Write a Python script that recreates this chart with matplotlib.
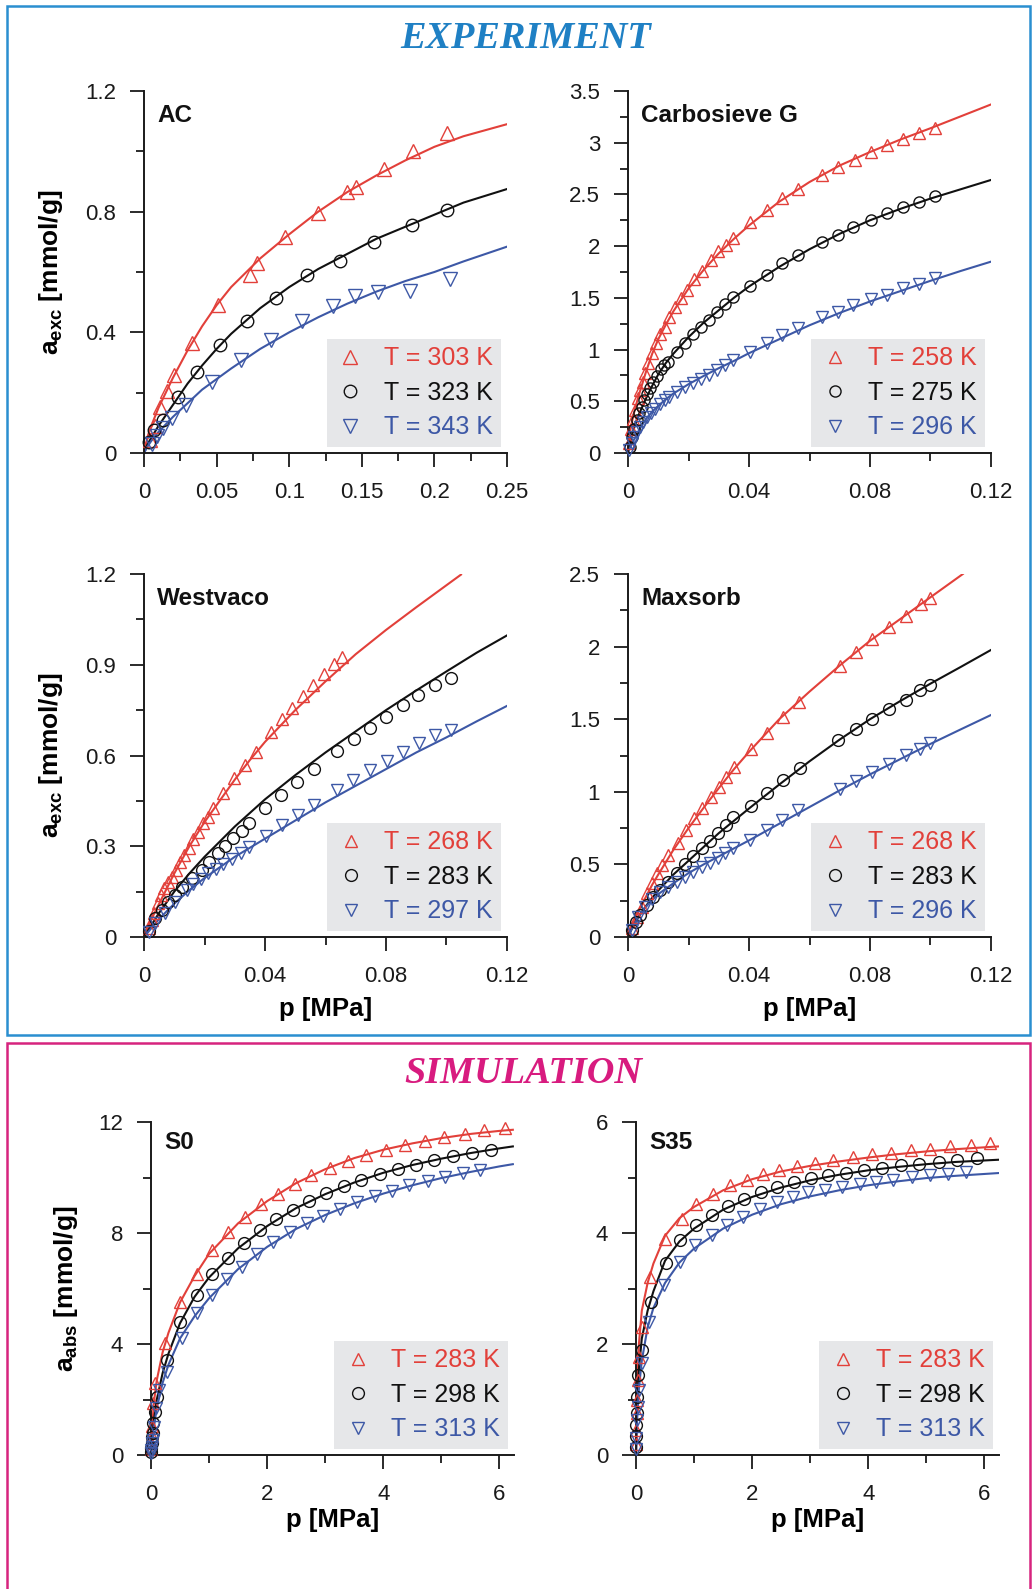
import matplotlib
matplotlib.use('Agg')
import matplotlib.pyplot as plt
from matplotlib.patches import Rectangle
from matplotlib.lines import Line2D
from matplotlib.ticker import MultipleLocator, FuncFormatter

plt.rcParams['font.family'] = ['Liberation Sans', 'DejaVu Sans']
plt.rcParams['mathtext.fontset'] = 'custom'
plt.rcParams['mathtext.rm'] = 'Liberation Sans'
plt.rcParams['mathtext.bf'] = 'Liberation Sans:bold'

RED = '#e2403a'
BLK = '#111111'
BLU = '#3d58a6'

# ---------------- AC ----------------
ac_fit_p = [0, 0.0025, 0.005, 0.01, 0.02, 0.03, 0.04, 0.05, 0.06, 0.08, 0.10, 0.12, 0.14, 0.16, 0.18, 0.20, 0.22, 0.25]
ac_303_fit = [0, 0.055, 0.09, 0.15, 0.25, 0.34, 0.42, 0.49, 0.55, 0.645, 0.725, 0.80, 0.865, 0.92, 0.97, 1.015, 1.05, 1.09]
ac_323_fit = [0, 0.03, 0.05, 0.09, 0.16, 0.23, 0.29, 0.345, 0.395, 0.48, 0.55, 0.61, 0.66, 0.71, 0.75, 0.79, 0.83, 0.875]
ac_343_fit = [0, 0.022, 0.04, 0.07, 0.12, 0.165, 0.21, 0.245, 0.28, 0.345, 0.40, 0.45, 0.495, 0.535, 0.57, 0.60, 0.635, 0.684]
ac_303_p = [0.004, 0.0076, 0.011, 0.0156, 0.0207, 0.0329, 0.0512, 0.073, 0.0777, 0.0972, 0.120, 0.140, 0.146, 0.165, 0.185, 0.209]
ac_303_a = [0.044, 0.088, 0.154, 0.204, 0.259, 0.364, 0.491, 0.590, 0.629, 0.717, 0.794, 0.866, 0.882, 0.943, 1.001, 1.061]
ac_323_p = [0.0035, 0.0069, 0.0133, 0.0237, 0.0363, 0.0524, 0.0708, 0.091, 0.1126, 0.135, 0.1585, 0.1845, 0.209]
ac_323_a = [0.035, 0.077, 0.108, 0.185, 0.267, 0.358, 0.439, 0.515, 0.590, 0.637, 0.698, 0.755, 0.807]
ac_343_p = [0.0053, 0.0087, 0.0133, 0.019, 0.029, 0.0466, 0.0666, 0.0873, 0.1087, 0.1305, 0.1455, 0.1615, 0.183, 0.211]
ac_343_a = [0.03, 0.055, 0.083, 0.116, 0.160, 0.237, 0.309, 0.373, 0.439, 0.487, 0.521, 0.535, 0.538, 0.576]

# ---------------- Carbosieve G ----------------
cg_fit_p = [0, 0.0005, 0.001, 0.002, 0.003, 0.004, 0.006, 0.008, 0.01, 0.0125, 0.015, 0.02, 0.025, 0.03, 0.035, 0.04, 0.05, 0.06, 0.07, 0.08, 0.09, 0.10, 0.11, 0.12]
cg_258_fit = [0, 0.17, 0.26, 0.39, 0.50, 0.60, 0.79, 0.96, 1.10, 1.24, 1.37, 1.59, 1.77, 1.93, 2.07, 2.20, 2.43, 2.62, 2.78, 2.91, 3.03, 3.14, 3.255, 3.37]
cg_275_fit = [0, 0.07, 0.14, 0.24, 0.33, 0.40, 0.53, 0.65, 0.76, 0.87, 0.96, 1.12, 1.26, 1.38, 1.50, 1.61, 1.80, 1.97, 2.12, 2.25, 2.36, 2.46, 2.55, 2.64]
cg_296_fit = [0, 0.04, 0.075, 0.13, 0.18, 0.24, 0.33, 0.40, 0.455, 0.52, 0.575, 0.665, 0.745, 0.82, 0.89, 0.965, 1.10, 1.235, 1.355, 1.465, 1.565, 1.665, 1.76, 1.85]
cg_258_p = [0.0003, 0.00088, 0.0015, 0.0023, 0.0032, 0.0040, 0.0048, 0.0056, 0.0067, 0.0078, 0.0091, 0.0106, 0.0122, 0.0136, 0.0155, 0.0174, 0.0194, 0.0218, 0.0246, 0.0273, 0.0299, 0.0324, 0.0348, 0.0403, 0.0458, 0.0508, 0.0561, 0.0642, 0.0694, 0.0749, 0.0802, 0.0855, 0.0908, 0.0961, 0.1016]
cg_258_a = [0.10, 0.229, 0.33, 0.416, 0.529, 0.609, 0.690, 0.770, 0.867, 0.964, 1.060, 1.150, 1.221, 1.318, 1.415, 1.50, 1.58, 1.679, 1.763, 1.866, 1.956, 2.011, 2.075, 2.237, 2.349, 2.462, 2.549, 2.686, 2.766, 2.837, 2.911, 2.975, 3.040, 3.094, 3.142]
cg_275_p = [0.0005, 0.0012, 0.002, 0.0029, 0.0036, 0.0045, 0.0054, 0.0063, 0.0073, 0.0084, 0.0095, 0.0108, 0.0120, 0.0133, 0.0161, 0.0188, 0.0216, 0.0241, 0.0269, 0.0293, 0.0321, 0.0346, 0.0403, 0.0458, 0.0508, 0.0561, 0.0642, 0.0694, 0.0745, 0.0802, 0.0855, 0.0908, 0.0961, 0.1016]
cg_275_a = [0.06, 0.15, 0.23, 0.319, 0.384, 0.448, 0.512, 0.567, 0.625, 0.690, 0.744, 0.809, 0.851, 0.883, 0.980, 1.060, 1.150, 1.221, 1.286, 1.366, 1.437, 1.511, 1.615, 1.721, 1.834, 1.914, 2.042, 2.107, 2.187, 2.252, 2.316, 2.374, 2.428, 2.483]
cg_296_p = [0.0004, 0.0012, 0.0021, 0.0030, 0.0040, 0.0051, 0.0062, 0.0076, 0.0089, 0.0106, 0.0122, 0.0136, 0.0161, 0.0188, 0.0214, 0.0241, 0.0269, 0.0293, 0.0321, 0.0346, 0.0403, 0.0458, 0.0508, 0.0561, 0.0642, 0.0694, 0.0745, 0.0802, 0.0855, 0.0908, 0.0961, 0.1016]
cg_296_a = [0.03, 0.093, 0.158, 0.206, 0.255, 0.303, 0.345, 0.390, 0.422, 0.474, 0.512, 0.545, 0.593, 0.635, 0.674, 0.712, 0.754, 0.802, 0.851, 0.899, 0.980, 1.060, 1.141, 1.205, 1.319, 1.367, 1.431, 1.489, 1.528, 1.592, 1.634, 1.689]

# ---------------- Westvaco ----------------
wv_268_fit_p = [0, 0.002, 0.005, 0.01, 0.015, 0.02, 0.025, 0.03, 0.035, 0.04, 0.05, 0.06, 0.07, 0.08, 0.09, 0.10, 0.1048]
wv_268_fit = [0, 0.05, 0.11, 0.21, 0.30, 0.38, 0.45, 0.52, 0.585, 0.645, 0.75, 0.845, 0.935, 1.015, 1.09, 1.163, 1.198]
wv_fit_p = [0, 0.005, 0.01, 0.015, 0.02, 0.03, 0.04, 0.05, 0.06, 0.07, 0.08, 0.09, 0.10, 0.11, 0.12]
wv_283_fit = [0, 0.08, 0.15, 0.21, 0.265, 0.365, 0.455, 0.535, 0.61, 0.68, 0.75, 0.815, 0.878, 0.94, 0.997]
wv_297_fit = [0, 0.06, 0.11, 0.155, 0.195, 0.265, 0.325, 0.385, 0.445, 0.50, 0.555, 0.61, 0.66, 0.713, 0.764]
wv_268_p = [0.0015, 0.0025, 0.0034, 0.0045, 0.0056, 0.0067, 0.0080, 0.0091, 0.0105, 0.0119, 0.0133, 0.0149, 0.0163, 0.0180, 0.0196, 0.0213, 0.0229, 0.0262, 0.0298, 0.0334, 0.0369, 0.0420, 0.0455, 0.0488, 0.0527, 0.0560, 0.0595, 0.0628, 0.0654]
wv_268_a = [0.03, 0.055, 0.078, 0.111, 0.139, 0.161, 0.183, 0.199, 0.221, 0.249, 0.271, 0.293, 0.323, 0.348, 0.376, 0.398, 0.425, 0.475, 0.525, 0.569, 0.613, 0.679, 0.720, 0.757, 0.797, 0.832, 0.871, 0.904, 0.924]
wv_283_p = [0.0015, 0.0036, 0.0058, 0.0080, 0.0102, 0.0127, 0.0158, 0.0191, 0.0215, 0.0244, 0.0268, 0.0295, 0.0323, 0.0348, 0.0400, 0.0453, 0.0507, 0.0562, 0.0639, 0.0693, 0.0747, 0.0800, 0.0855, 0.0907, 0.0962, 0.1014]
wv_283_a = [0.02, 0.062, 0.089, 0.117, 0.139, 0.165, 0.194, 0.221, 0.249, 0.277, 0.301, 0.326, 0.352, 0.378, 0.425, 0.469, 0.513, 0.554, 0.615, 0.653, 0.692, 0.727, 0.766, 0.799, 0.834, 0.857]
wv_297_p = [0.0015, 0.0035, 0.0069, 0.0102, 0.0141, 0.0163, 0.0188, 0.021, 0.0237, 0.0262, 0.029, 0.0321, 0.0347, 0.0402, 0.0455, 0.0508, 0.0562, 0.0639, 0.0692, 0.0747, 0.0802, 0.0855, 0.091, 0.0962, 0.1014]
wv_297_a = [0.015, 0.045, 0.078, 0.117, 0.155, 0.175, 0.191, 0.210, 0.224, 0.240, 0.258, 0.277, 0.299, 0.334, 0.370, 0.403, 0.436, 0.486, 0.519, 0.551, 0.582, 0.612, 0.641, 0.667, 0.685]

# ---------------- Maxsorb ----------------
mx_268_fit_p = [0, 0.001, 0.002, 0.004, 0.006, 0.008, 0.01, 0.015, 0.02, 0.025, 0.03, 0.035, 0.04, 0.05, 0.06, 0.07, 0.08, 0.09, 0.10, 0.1107]
mx_268_fit = [0, 0.06, 0.11, 0.20, 0.28, 0.36, 0.43, 0.60, 0.75, 0.89, 1.025, 1.155, 1.275, 1.50, 1.69, 1.87, 2.04, 2.19, 2.34, 2.50]
mx_fit_p = [0, 0.001, 0.002, 0.004, 0.006, 0.008, 0.01, 0.015, 0.02, 0.025, 0.03, 0.035, 0.04, 0.05, 0.06, 0.07, 0.08, 0.09, 0.10, 0.11, 0.12]
mx_283_fit = [0, 0.045, 0.085, 0.155, 0.215, 0.27, 0.32, 0.43, 0.525, 0.62, 0.715, 0.80, 0.885, 1.05, 1.21, 1.36, 1.50, 1.625, 1.745, 1.86, 1.977]
mx_296_fit = [0, 0.045, 0.085, 0.155, 0.21, 0.255, 0.295, 0.37, 0.44, 0.50, 0.555, 0.61, 0.665, 0.78, 0.895, 1.01, 1.12, 1.225, 1.33, 1.43, 1.529]
mx_268_p = [0.0012, 0.0029, 0.0045, 0.0062, 0.0078, 0.0095, 0.0111, 0.0133, 0.0164, 0.0192, 0.0218, 0.0246, 0.0273, 0.0300, 0.0324, 0.0352, 0.0406, 0.0461, 0.0513, 0.0566, 0.0700, 0.0755, 0.0808, 0.0863, 0.0918, 0.0970, 0.0997]
mx_268_a = [0.06, 0.140, 0.209, 0.301, 0.370, 0.438, 0.496, 0.565, 0.645, 0.737, 0.817, 0.886, 0.962, 1.035, 1.100, 1.168, 1.292, 1.407, 1.518, 1.618, 1.869, 1.965, 2.052, 2.133, 2.211, 2.291, 2.332]
mx_283_p = [0.0012, 0.0025, 0.0040, 0.0062, 0.0084, 0.0106, 0.0133, 0.0161, 0.0188, 0.0216, 0.0244, 0.0271, 0.0299, 0.0324, 0.0348, 0.0406, 0.0458, 0.0513, 0.0569, 0.0695, 0.0755, 0.0808, 0.0863, 0.0918, 0.0966, 0.0997]
mx_283_a = [0.05, 0.10, 0.152, 0.220, 0.278, 0.324, 0.381, 0.443, 0.503, 0.558, 0.611, 0.661, 0.714, 0.771, 0.824, 0.902, 0.989, 1.081, 1.162, 1.357, 1.430, 1.499, 1.568, 1.632, 1.701, 1.736]
mx_296_p = [0.0012, 0.0034, 0.0056, 0.0078, 0.0106, 0.0133, 0.0161, 0.0188, 0.0216, 0.0244, 0.0271, 0.0296, 0.0321, 0.0348, 0.0403, 0.0458, 0.0508, 0.0563, 0.0700, 0.0755, 0.0808, 0.0863, 0.0918, 0.0966, 0.0997]
mx_296_a = [0.05, 0.14, 0.21, 0.262, 0.312, 0.347, 0.381, 0.416, 0.450, 0.480, 0.512, 0.542, 0.576, 0.611, 0.668, 0.737, 0.806, 0.875, 1.017, 1.077, 1.139, 1.191, 1.253, 1.292, 1.334]

# ---------------- S0 (simulation) ----------------
s0_fit_p = [0, 0.01, 0.02, 0.05, 0.1, 0.2, 0.3, 0.5, 0.75, 1.0, 1.5, 2.0, 2.5, 3.0, 3.5, 4.0, 4.5, 5.0, 5.5, 6.0, 6.23]
s0_283_fit = [0, 0.6, 1.0, 1.9, 2.7, 3.7, 4.4, 5.5, 6.45, 7.25, 8.35, 9.15, 9.8, 10.3, 10.7, 11.0, 11.23, 11.42, 11.57, 11.68, 11.72]
s0_298_fit = [0, 0.35, 0.6, 1.25, 2.0, 2.95, 3.65, 4.75, 5.7, 6.4, 7.45, 8.25, 8.9, 9.4, 9.82, 10.17, 10.45, 10.68, 10.88, 11.05, 11.12]
s0_313_fit = [0, 0.25, 0.45, 1.0, 1.7, 2.6, 3.25, 4.2, 5.0, 5.65, 6.7, 7.5, 8.15, 8.65, 9.07, 9.42, 9.72, 9.98, 10.2, 10.4, 10.48]
s0_283_p = [0.003, 0.006, 0.01, 0.02, 0.04, 0.07, 0.24, 0.50, 0.785, 1.043, 1.33, 1.616, 1.90, 2.19, 2.476, 2.76, 3.08, 3.39, 3.71, 4.04, 4.37, 4.71, 5.05, 5.40, 5.74, 6.09]
s0_283_a = [0.2, 0.45, 0.7, 1.05, 1.86, 2.58, 4.02, 5.52, 6.54, 7.38, 8.04, 8.58, 9.06, 9.42, 9.78, 10.08, 10.36, 10.60, 10.80, 10.98, 11.16, 11.32, 11.46, 11.58, 11.70, 11.80]
s0_298_p = [0.003, 0.006, 0.01, 0.02, 0.03, 0.04, 0.07, 0.10, 0.27, 0.50, 0.785, 1.043, 1.33, 1.60, 1.87, 2.15, 2.44, 2.72, 3.02, 3.32, 3.62, 3.94, 4.25, 4.56, 4.88, 5.20, 5.53, 5.86]
s0_298_a = [0.1, 0.25, 0.42, 0.65, 0.78, 1.14, 1.56, 2.1, 3.42, 4.78, 5.76, 6.52, 7.10, 7.64, 8.10, 8.50, 8.84, 9.16, 9.44, 9.70, 9.92, 10.12, 10.31, 10.46, 10.62, 10.76, 10.90, 11.00]
s0_313_p = [0.003, 0.006, 0.01, 0.02, 0.03, 0.05, 0.09, 0.13, 0.27, 0.53, 0.785, 1.043, 1.30, 1.56, 1.83, 2.10, 2.39, 2.68, 2.96, 3.25, 3.55, 3.85, 4.15, 4.45, 4.77, 5.07, 5.37, 5.67]
s0_313_a = [0.08, 0.18, 0.3, 0.45, 0.54, 1.02, 1.68, 2.34, 3.00, 4.20, 5.10, 5.76, 6.36, 6.78, 7.26, 7.68, 8.04, 8.36, 8.60, 8.88, 9.12, 9.32, 9.52, 9.72, 9.88, 10.02, 10.16, 10.28]

# ---------------- S35 (simulation) ----------------
s35_fit_p = [0, 0.005, 0.01, 0.02, 0.05, 0.1, 0.2, 0.3, 0.5, 0.75, 1.0, 1.5, 2.0, 2.5, 3.0, 3.5, 4.0, 4.5, 5.0, 5.5, 6.24]
s35_283_fit = [0, 0.4, 0.7, 1.2, 2.0, 2.6, 3.1, 3.45, 3.95, 4.27, 4.47, 4.77, 4.97, 5.11, 5.21, 5.29, 5.36, 5.42, 5.47, 5.51, 5.56]
s35_298_fit = [0, 0.28, 0.5, 0.9, 1.55, 2.1, 2.6, 2.95, 3.5, 3.85, 4.08, 4.42, 4.65, 4.82, 4.95, 5.05, 5.13, 5.19, 5.24, 5.28, 5.32]
s35_313_fit = [0, 0.2, 0.35, 0.65, 1.2, 1.7, 2.3, 2.65, 3.1, 3.47, 3.72, 4.08, 4.33, 4.52, 4.66, 4.77, 4.86, 4.93, 4.99, 5.03, 5.08]
s35_283_p = [0.002, 0.005, 0.01, 0.02, 0.04, 0.06, 0.1, 0.24, 0.50, 0.786, 1.03, 1.33, 1.61, 1.91, 2.18, 2.47, 2.77, 3.08, 3.40, 3.73, 4.06, 4.39, 4.73, 5.06, 5.41, 5.76, 6.10]
s35_283_a = [0.2, 0.45, 0.75, 0.99, 1.35, 1.77, 2.31, 3.21, 3.90, 4.26, 4.53, 4.71, 4.86, 4.96, 5.06, 5.13, 5.20, 5.27, 5.32, 5.37, 5.42, 5.45, 5.49, 5.52, 5.56, 5.59, 5.62]
s35_298_p = [0.002, 0.004, 0.006, 0.01, 0.02, 0.04, 0.1, 0.26, 0.52, 0.76, 1.03, 1.30, 1.59, 1.86, 2.15, 2.43, 2.72, 3.01, 3.31, 3.62, 3.92, 4.23, 4.56, 4.88, 5.21, 5.53, 5.87]
s35_298_a = [0.15, 0.35, 0.54, 0.75, 1.05, 1.44, 1.89, 2.76, 3.46, 3.87, 4.14, 4.32, 4.48, 4.62, 4.74, 4.83, 4.92, 5.00, 5.04, 5.08, 5.13, 5.18, 5.22, 5.25, 5.28, 5.31, 5.36]
s35_313_p = [0.002, 0.005, 0.01, 0.03, 0.06, 0.11, 0.23, 0.48, 0.76, 1.02, 1.30, 1.57, 1.85, 2.14, 2.42, 2.70, 2.97, 3.25, 3.54, 3.85, 4.14, 4.43, 4.75, 5.06, 5.38, 5.68]
s35_313_a = [0.1, 0.3, 0.63, 0.87, 1.17, 1.65, 2.40, 3.06, 3.48, 3.78, 3.96, 4.14, 4.29, 4.44, 4.56, 4.65, 4.73, 4.78, 4.83, 4.88, 4.92, 4.96, 5.01, 5.04, 5.07, 5.10]


W, H = 1033, 1589
fig = plt.figure(figsize=(W / 100, H / 100), dpi=100)


def px_axes(left, top, right, bottom):
    return fig.add_axes([left / W, 1 - bottom / H, (right - left) / W, (bottom - top) / H])


fmt = FuncFormatter(lambda v, pos: '%g' % round(v, 6))


def panel(box, xlim, ylim, xstep, ystep, name, series, temps, ms=8,
          ylabel=None, xlabel=False, name_y=0.914, ylab_x=-0.218, xlab_y=-0.165):
    ax = px_axes(*box)
    for mp, ma, fp, fa, col, mk in series:
        ax.plot(fp, fa, '-', color=col, lw=1.5, zorder=2)
        size = ms if mk == 'o' else ms + 0.5
        ax.plot(mp, ma, ls='none', marker=mk, mfc='none', mec=col, ms=size, mew=1.0,
                zorder=3, clip_on=False)
    ax.set_xlim(*xlim)
    ax.set_ylim(*ylim)
    for s in ('top', 'right'):
        ax.spines[s].set_visible(False)
    for s in ('left', 'bottom'):
        ax.spines[s].set_linewidth(1.4)
        ax.spines[s].set_color('#1a1a1a')
    ax.xaxis.set_major_locator(MultipleLocator(xstep))
    ax.xaxis.set_minor_locator(MultipleLocator(xstep / 2))
    ax.yaxis.set_major_locator(MultipleLocator(ystep))
    ax.yaxis.set_minor_locator(MultipleLocator(ystep / 2))
    ax.xaxis.set_major_formatter(fmt)
    ax.yaxis.set_major_formatter(fmt)
    ax.tick_params(which='major', direction='out', length=10, width=1.3, labelsize=16,
                   colors='#1a1a1a')
    ax.tick_params(which='minor', direction='out', length=5.5, width=1.3, colors='#1a1a1a')
    ax.tick_params(axis='x', which='major', pad=11)
    ax.tick_params(axis='y', which='major', pad=10)
    ax.text(0.036, name_y, name, transform=ax.transAxes, fontsize=17.5, fontweight='bold',
            va='baseline', ha='left', color='#111111')
    if ylabel:
        ax.set_ylabel(ylabel, fontsize=19, fontweight='bold')
        ax.yaxis.set_label_coords(ylab_x, 0.5)
    if xlabel:
        ax.set_xlabel('p [MPa]', fontsize=18.5, fontweight='bold')
        ax.xaxis.set_label_coords(0.5, xlab_y)

    handles = []
    cols = []
    for mp, ma, fp, fa, col, mk in series:
        size = ms if mk == 'o' else ms + 0.5
        handles.append(Line2D([], [], ls='none', marker=mk, mfc='none', mec=col, ms=size, mew=1.0))
        cols.append(col)
    leg = ax.legend(handles, ['T = %d K' % t for t in temps], loc='lower right', fontsize=18,
                    frameon=True, fancybox=False, facecolor='#e6e7e9', edgecolor='none',
                    framealpha=1, borderpad=0.3, labelspacing=0.42, handlelength=1.3,
                    handletextpad=0.7, borderaxespad=0.25)
    for t, c in zip(leg.get_texts(), cols):
        t.set_color(c)
    return ax


ylab_exc = r'$\mathbf{a}_{\mathbf{exc}}$ [mmol/g]'
ylab_abs = r'$\mathbf{a}_{\mathbf{abs}}$ [mmol/g]'

panel((144, 91, 507, 453), (0, 0.25), (0, 1.2), 0.05, 0.4, 'AC',
      [(ac_303_p, ac_303_a, ac_fit_p, ac_303_fit, RED, '^'),
       (ac_323_p, ac_323_a, ac_fit_p, ac_323_fit, BLK, 'o'),
       (ac_343_p, ac_343_a, ac_fit_p, ac_343_fit, BLU, 'v')],
      [303, 323, 343], ms=9, ylabel=ylab_exc)

panel((628, 91, 991, 453), (0, 0.12), (0, 3.5), 0.04, 0.5, 'Carbosieve G',
      [(cg_258_p, cg_258_a, cg_fit_p, cg_258_fit, RED, '^'),
       (cg_275_p, cg_275_a, cg_fit_p, cg_275_fit, BLK, 'o'),
       (cg_296_p, cg_296_a, cg_fit_p, cg_296_fit, BLU, 'v')],
      [258, 275, 296], ms=8)

panel((144, 574, 507, 937), (0, 0.12), (0, 1.2), 0.04, 0.3, 'Westvaco',
      [(wv_268_p, wv_268_a, wv_268_fit_p, wv_268_fit, RED, '^'),
       (wv_283_p, wv_283_a, wv_fit_p, wv_283_fit, BLK, 'o'),
       (wv_297_p, wv_297_a, wv_fit_p, wv_297_fit, BLU, 'v')],
      [268, 283, 297], ms=8.5, ylabel=ylab_exc, xlabel=True)

panel((628, 574, 991, 937), (0, 0.12), (0, 2.5), 0.04, 0.5, 'Maxsorb',
      [(mx_268_p, mx_268_a, mx_268_fit_p, mx_268_fit, RED, '^'),
       (mx_283_p, mx_283_a, mx_fit_p, mx_283_fit, BLK, 'o'),
       (mx_296_p, mx_296_a, mx_fit_p, mx_296_fit, BLU, 'v')],
      [268, 283, 296], ms=8.5, xlabel=True)

panel((151, 1122, 514, 1455), (0, 6.25), (0, 12), 2, 4, 'S0',
      [(s0_283_p, s0_283_a, s0_fit_p, s0_283_fit, RED, '^'),
       (s0_298_p, s0_298_a, s0_fit_p, s0_298_fit, BLK, 'o'),
       (s0_313_p, s0_313_a, s0_fit_p, s0_313_fit, BLU, 'v')],
      [283, 298, 313], ms=8.5, ylabel=ylab_abs, xlabel=True, name_y=0.919,
      ylab_x=-0.196, xlab_y=-0.16)

panel((636, 1122, 999, 1455), (0, 6.25), (0, 6), 2, 2, 'S35',
      [(s35_283_p, s35_283_a, s35_fit_p, s35_283_fit, RED, '^'),
       (s35_298_p, s35_298_a, s35_fit_p, s35_298_fit, BLK, 'o'),
       (s35_313_p, s35_313_a, s35_fit_p, s35_313_fit, BLU, 'v')],
      [283, 298, 313], ms=8.5, xlabel=True, name_y=0.919, xlab_y=-0.16)

# section frames and titles
fig.patches.append(Rectangle((7 / W, 1 - 1035 / H), 1023 / W, 1029 / H, transform=fig.transFigure,
                             fill=False, ec='#2a8fd0', lw=1.8))
fig.patches.append(Rectangle((7 / W, -0.05), 1023 / W, 1 - 1043 / H + 0.05, transform=fig.transFigure,
                             fill=False, ec='#d6247e', lw=1.8))
fig.text(526 / W, 1 - 48 / H, 'EXPERIMENT', ha='center', va='baseline', fontsize=27.5,
         family='Liberation Serif', style='italic', weight='bold', color='#1f80c4')
fig.text(523 / W, 1 - 1083 / H, 'SIMULATION', ha='center', va='baseline', fontsize=27.5,
         family='Liberation Serif', style='italic', weight='bold', color='#d81b7f')

fig.savefig('out.png', dpi=100)
